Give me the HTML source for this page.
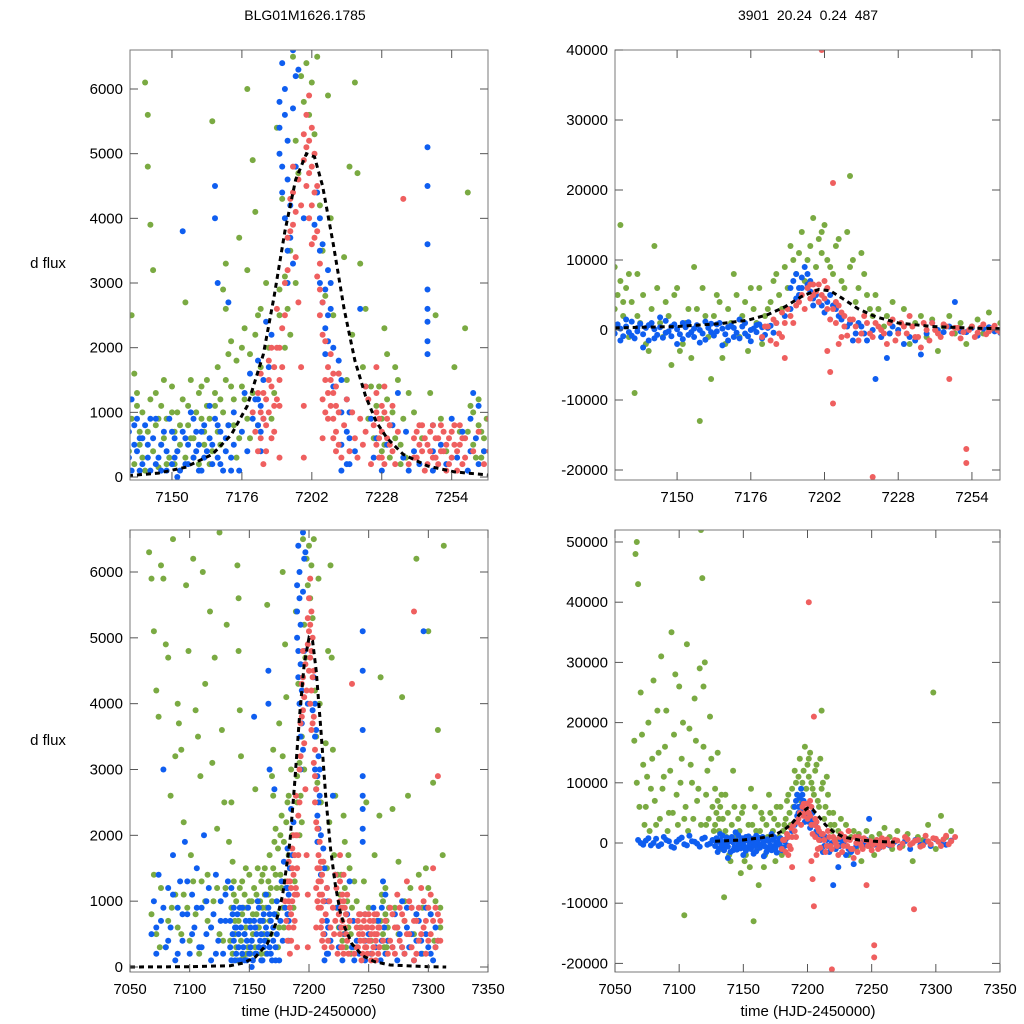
<!DOCTYPE html>
<html><head><meta charset="utf-8"><title>BLG01M1626.1785</title>
<style>
html,body{margin:0;padding:0;background:#fff;}
svg{display:block;font-family:"Liberation Sans",sans-serif;}
</style></head>
<body>
<svg id="chart" width="1024" height="1024" viewBox="0 0 1024 1024" xmlns="http://www.w3.org/2000/svg">
<rect width="1024" height="1024" fill="#fff"/>
<text x="305" y="20" font-size="14" text-anchor="middle">BLG01M1626.1785</text>
<text x="808" y="20" font-size="14" text-anchor="middle" xml:space="preserve">3901  20.24  0.24  487</text>
<text x="48" y="268" font-size="15" text-anchor="middle">d flux</text>
<text x="48" y="745" font-size="15" text-anchor="middle">d flux</text>
<text x="309" y="1016" font-size="15" text-anchor="middle">time (HJD-2450000)</text>
<text x="808" y="1016" font-size="15" text-anchor="middle">time (HJD-2450000)</text>
</svg>
<script>
// ---- Left dataset (d flux) ----
const greenL = [[7066,6300],[7068,5900],[7070,5100],[7072,4200],[7074,3800],[7076,6100],[7078,5900],[7080,4900],[7082,4700],[7084,2600],[7086,6500],[7088,3200],[7090,4000],[7091,3700],[7093,3300],[7095,2200],[7097,5800],[7099,4800],[7101,1700],[7103,6200],[7105,3900],[7107,3500],[7109,2900],[7111,6000],[7113,4300],[7115,1400],[7117,5400],[7119,3100],[7121,4700],[7123,2100],[7125,6600],[7127,3600],[7129,2500],[7131,5200],[7133,1900],
[7068,800],[7072,500],[7076,1200],[7080,300],[7085,900],[7090,600],[7095,1100],[7100,400],[7105,800],[7110,1300],[7115,700],[7120,1000],[7125,500],[7130,1200],
[7135,2500],[7136,1600],[7137,1100],[7138,700],[7139,300],[7140,6100],[7141,5600],[7141,4800],[7142,3900],[7143,3200],[7144,1300],[7145,900],[7146,500],[7147,1500],[7148,200],[7150,1000],[7151,700],[7152,400],[7153,800],[7155,2700],[7156,1100],[7157,600],[7158,300],[7160,1300],[7161,900],[7162,500],[7163,1500],[7164,200],[7165,5500],[7166,1100],[7167,700],[7168,1200],[7169,2900],[7170,3300],[7170,2600],[7171,1900],[7172,1400],[7173,800],[7174,300],[7175,3700],[7176,2000],[7177,1200],[7178,6000],[7178,3200],[7179,600],[7180,4900],[7181,4100],[7182,2500],[7183,1700],[7185,3000],[7186,2000],[7187,900],[7188,1300],[7189,5400],[7190,2900],[7191,4300],[7192,3100],[7193,2600],[7194,2200],[7195,6500],[7196,5200],[7197,4700],[7198,6200],[7199,5800],[7200,6400],[7201,5600],[7202,6100],[7203,5300],[7204,6500],[7205,4200],[7206,3500],[7207,2800],[7208,5900],[7209,4000],[7210,2500],[7212,1600],[7214,3400],[7215,1500],[7216,4800],[7217,2200],[7218,6100],[7219,4700],[7220,3300],[7221,1700],[7222,2600],[7223,900],[7224,1400],[7225,600],[7226,1100],[7228,400],[7229,2300],[7230,1200],[7231,800],[7233,1700],[7235,500],[7237,300],[7240,1000],[7243,600],[7246,1300],[7248,2500],[7250,900],[7252,400],[7255,1700],[7257,700],[7259,2300],[7260,4400],[7261,1100],[7262,500],[7264,800],[7265,300],[7266,600],
[7270,2400],[7272,900],[7275,1600],[7278,4100],[7280,700],[7283,2600],[7285,1200],[7288,500],[7290,6200],[7292,1400],[7295,900],[7298,1500],[7300,5100],[7302,800],[7304,2800],[7306,1000],[7308,3600],[7310,600],[7312,1700],[7313,6400]];
const greenLExtra = [[7134,400],[7135,900],[7136,200],[7137,1300],[7138,500],[7139,1000],[7140,100],[7141,700],[7142,1200],[7143,400],[7144,800],[7145,150],[7146,1100],[7147,600],[7148,900],[7149,300],[7150,1400],[7151,200],[7152,1000],[7153,500],[7154,1200],[7155,300],[7156,800],[7157,1500],[7158,600],[7159,1000],[7160,200],[7161,1400],[7162,700],[7163,1100],[7164,900],[7165,400],[7166,1300],[7167,1700],[7168,500],[7169,1000],[7170,1500],[7171,800],[7172,2100],[7173,1200],[7174,1800],[7175,600],[7176,1400],[7177,2300],[7178,900],[7179,1900],[7180,1300],[7181,2200],[7182,800],[7183,2600],[7196,3000],[7194,3500],[7192,2000],[7190,2500],[7226,600],[7227,1400],[7228,900],[7229,500],[7230,1900],[7231,300],[7232,1000],[7233,600],[7234,1500],[7235,200],[7236,900],[7238,1300],[7260,700],[7262,1000],[7263,300],[7264,1200],[7265,700],[7266,400],[7267,900],[7070,1400],[7075,300],[7082,700],[7088,1100],[7093,500],[7098,900],[7103,1300],[7108,200],[7113,1000],[7118,600],[7123,1200],[7128,400],[7275,500],[7280,1000],[7285,300],[7290,800],[7295,200],[7300,1200],[7305,400],[7310,900]];
const blueL = [[7068,500],[7070,1000],[7072,200],[7074,1400],[7076,700],[7078,3000],[7080,300],[7082,1200],[7084,600],[7086,1700],[7088,100],[7090,900],[7092,1300],[7094,400],[7096,1900],[7098,800],[7100,200],[7102,1100],[7104,600],[7106,1500],[7108,300],[7110,900],[7112,2000],[7114,500],[7116,1200],[7118,100],[7120,800],[7122,1400],[7124,400],[7126,1000],[7128,200],[7130,700],[7132,1300],
[7135,1200],[7136,800],[7137,400],[7138,100],[7139,600],[7141,300],[7142,900],[7144,200],[7146,500],[7148,100],[7150,700],[7151,300],[7152,0],[7154,3800],[7155,600],[7156,200],[7158,900],[7159,400],[7160,100],[7161,700],[7162,300],[7164,1100],[7165,500],[7166,4500],[7166,4000],[7167,3000],[7167,800],[7168,200],[7170,600],[7171,2700],[7172,300],[7173,1000],[7175,100],[7176,700],[7177,1300],[7178,400],[7179,1600],[7180,900],[7181,1200],[7182,1800],[7183,400],[7185,2400],[7186,1700],[7187,2200],[7190,5000],[7191,6400],[7192,6000],[7192,5600],[7193,5200],[7193,4600],[7194,4200],[7194,3700],[7195,3300],[7195,6600],[7196,4800],[7197,6300],[7199,4000],[7203,3900],[7204,4400],[7205,3500],[7205,3000],[7206,2700],[7207,2300],[7207,1900],[7208,3200],[7209,2600],[7210,1400],[7212,1800],[7215,1200],[7215,700],[7215,200],[7216,1000],[7218,400],[7220,2600],[7222,1400],[7224,900],[7225,300],[7226,600],[7228,100],[7230,500],[7232,800],[7234,1300],[7236,300],[7237,700],[7238,100],[7240,400],[7242,200],[7245,2900],[7245,2600],[7245,2400],[7245,2100],[7245,1900],[7245,3600],[7245,5100],[7245,4500],[7250,500],[7252,200],[7254,900],[7256,300],[7258,700],[7260,100],[7262,1300],[7263,600],[7266,400],
[7270,300],[7272,800],[7274,100],[7276,500],[7278,1000],[7280,200],[7282,600],[7284,300],[7286,900],[7288,100],[7290,400],[7292,700],[7294,200],[7296,5100],[7298,500],[7300,300],[7302,800],[7304,100],[7306,600],[7308,400]];
const blueLExtra = [[7134,300],[7134,700],[7135,100],[7136,500],[7137,900],[7138,600],[7139,200],[7140,800],[7141,500],[7142,100],[7143,600],[7144,900],[7145,300],[7146,100],[7147,700],[7148,400],[7149,900],[7150,200],[7151,600],[7152,400],[7153,100],[7154,700],[7155,200],[7156,500],[7157,1000],[7158,300],[7159,700],[7160,500],[7161,100],[7162,800],[7163,400],[7164,600],[7165,200],[7166,900],[7167,300],[7168,700],[7169,100],[7170,400],[7171,800],[7172,100],[7173,500],[7182,1200],[7182,800],[7183,1100],[7183,700],[7184,1500],[7184,900],[7190,5800],[7190,5400],[7191,4800],[7191,4400],[7192,4000],[7193,3500],[7193,3000],[7195,5700],[7196,6200],[7205,4000],[7206,3600],[7207,2900],[7208,2500],[7208,2100],[7209,3000],[7210,2000],[7213,1500],[7213,1000],[7213,500],[7213,100],[7216,600],[7216,200],[7247,800],[7247,400],[7247,100],[7261,900],[7261,400],[7264,200],[7264,1100],[7072,600],[7078,900],[7082,400],[7086,1100],[7090,200],[7094,800],[7098,1300],[7102,500],[7106,900],[7110,300],[7114,1000],[7118,600],[7122,200],[7126,700],[7130,1100],[7274,600],[7278,300],[7282,900],[7286,500],[7290,800],[7294,400],[7298,900],[7302,200],[7306,300]];
const redL = [[7180,1000],[7181,700],[7182,1300],[7182,400],[7183,1600],[7184,900],[7184,200],[7185,1200],[7186,1800],[7187,2000],[7187,1400],[7188,1100],[7188,700],[7189,2600],[7190,1500],[7190,300],[7191,2300],[7192,3000],[7193,3700],[7194,4300],[7195,4800],[7195,3900],[7196,4100],[7196,3400],[7197,4600],[7197,2700],[7198,1700],[7199,1100],[7199,300],[7200,5600],[7200,5100],[7201,5900],[7201,4700],[7202,5400],[7202,4200],[7203,5000],[7203,3700],[7204,4500],[7204,3100],[7205,2500],[7206,1200],[7206,600],[7207,2100],[7208,1700],[7209,1900],[7209,1500],[7210,1300],[7210,900],[7211,1100],[7211,700],[7212,500],[7212,1600],[7213,300],[7214,800],[7215,1200],[7216,400],[7217,1000],[7218,600],[7219,300],[7220,900],[7221,500],[7222,1400],[7222,700],[7223,1200],[7224,200],[7225,800],[7226,1700],[7226,1000],[7227,600],[7228,300],[7229,1400],[7230,900],[7231,500],[7232,1100],[7233,200],[7234,700],[7236,4300],[7238,200],[7240,600],[7241,300],[7242,800],[7243,400],[7244,100],[7245,500],[7246,700],[7247,300],[7248,600],[7249,200],[7250,800],[7251,400],[7252,100],[7253,600],[7254,300],[7255,800],[7256,100],[7257,500],[7258,200],[7259,600],
[7262,400],[7264,700],[7266,200],[7268,900],[7270,300],[7272,600],[7274,1100],[7276,400],[7278,800],[7280,200],[7282,1300],[7284,500],[7286,900],[7288,5400],[7288,100],[7290,700],[7292,400],[7294,1200],[7296,600],[7298,200],[7300,900],[7302,500],[7304,1500],[7306,300],[7308,2900],[7308,800],[7310,400]];
const redLExtra = [[7183,1000],[7183,600],[7184,1300],[7185,800],[7185,400],[7186,1500],[7186,1000],[7187,600],[7188,1700],[7189,2000],[7189,1200],[7190,2000],[7190,1100],[7191,1700],[7192,2500],[7193,3200],[7194,3800],[7195,4400],[7198,4200],[7199,4900],[7199,5300],[7200,4500],[7201,5200],[7201,4000],[7202,4800],[7202,3600],[7203,4400],[7204,3800],[7205,3300],[7205,2900],[7206,2700],[7206,2200],[7207,1500],[7207,1000],[7208,1300],[7208,900],[7209,1100],[7210,1600],[7210,600],[7211,1400],[7211,400],[7212,1000],[7226,1300],[7226,500],[7227,900],[7227,300],[7228,1100],[7228,700],[7229,1000],[7229,200],[7230,600],[7231,800],[7232,400],[7240,300],[7241,700],[7242,500],[7243,800],[7244,600],[7245,200],[7246,400],[7247,800],[7248,300],[7249,600],[7250,400],[7251,700],[7252,500],[7253,200],[7254,700],[7255,500],[7256,400],[7257,800],[7258,600],[7259,300],[7268,400],[7270,800],[7272,200],[7274,600],[7276,900],[7278,300],[7280,700],[7282,500],[7284,1000],[7286,300],[7288,700],[7290,200],[7292,900],[7294,500],[7296,1000],[7298,700],[7300,400],[7302,1100],[7304,700],[7306,900],[7308,400],[7310,700]];
const modelL = [[7050,0],[7100,5],[7134,20],[7145,60],[7155,150],[7165,350],[7172,650],[7178,1100],[7184,1900],[7188,2800],[7192,3800],[7196,4600],[7200,5000],[7203,4950],[7206,4500],[7210,3600],[7214,2600],[7218,1800],[7222,1250],[7226,850],[7230,600],[7236,350],[7245,170],[7255,80],[7268,30],[7300,5],[7315,0]];

// ---- Right dataset (flux) ----
const greenR = [[7065,17000],[7066,48000],[7067,50000],[7068,43000],[7070,25000],[7072,13000],[7074,6000],[7076,20000],[7078,9000],[7080,27000],[7082,3000],[7084,15000],[7086,31000],[7088,11000],[7090,22000],[7092,5000],[7094,35000],[7096,18000],[7098,8000],[7100,26000],[7102,14000],[7104,-12000],[7104,4000],[7106,33000],[7108,19000],[7110,10000],[7112,24000],[7114,7000],[7116,29000],[7117,52000],[7118,44000],[7119,16000],[7120,30000],[7121,3000],[7122,12000],[7124,21000],[7126,6000],[7128,9000],[7130,15000],[7131,4000],[7133,8000],[7135,-9000],[7136,2000],[7138,5000],[7140,-3000],[7142,12000],[7144,1000],[7146,4000],[7148,-5000],[7150,6000],[7152,-2000],[7154,3000],[7156,9000],[7158,-13000],[7160,2000],[7162,-7000],[7164,5000],[7166,-4000],[7168,3000],[7170,8000],[7172,-1000],[7174,4000],[7176,6000],[7178,1000],[7180,-2000],[7182,3000],[7184,7000],[7186,5000],[7188,9000],[7190,12000],[7192,8000],[7194,14000],[7196,10000],[7198,16000],[7200,13000],[7201,11000],[7202,15000],[7204,9000],[7206,12000],[7208,7000],[7210,14000],[7211,22000],[7212,10000],[7214,6000],[7216,8000],[7218,3000],[7220,5000],[7222,-1000],[7224,2000],[7226,4000],[7228,0],[7230,3000],[7232,-2000],[7234,1000],[7236,2000],[7238,-1000],[7240,1500],[7242,-3000],[7244,500],[7246,2000],[7248,-500],[7250,1000],[7252,-2000],[7254,500],[7256,1500],[7258,-500],[7260,2500],[7262,0],[7264,1000],[7266,-1000],[7270,2000],[7274,-500],[7278,1500],[7282,-3000],[7286,1000],[7290,500],[7294,3000],[7298,25000],[7300,-1000],[7304,4500],[7308,1000],[7312,2000]];
const greenRExtra = [[7128,3000],[7129,5000],[7130,7000],[7131,2000],[7132,6000],[7133,-1000],[7134,4000],[7136,8000],[7137,1000],[7139,-2000],[7141,3000],[7143,6000],[7145,-1000],[7147,2000],[7149,5000],[7151,-3000],[7153,1000],[7155,-4000],[7157,3000],[7159,6000],[7161,-1000],[7163,2000],[7165,4000],[7167,-2000],[7169,1000],[7171,5000],[7173,2000],[7175,-3000],[7177,3000],[7179,6000],[7181,2000],[7183,4000],[7185,8000],[7187,3000],[7189,6000],[7191,10000],[7193,11000],[7195,7000],[7197,12000],[7199,9000],[7201,14000],[7203,10000],[7205,8000],[7207,13000],[7209,6000],[7211,9000],[7213,4000],[7215,11000],[7217,5000],[7219,2000],[7221,3000],[7223,500],[7225,-500],[7067,10000],[7069,6000],[7071,18000],[7073,3000],[7075,11000],[7077,2000],[7079,14000],[7081,7000],[7083,22000],[7085,4000],[7087,9000],[7089,16000],[7091,2000],[7093,12000],[7095,5000],[7097,28000],[7099,3000],[7101,10000],[7103,20000],[7105,6000],[7107,2000],[7109,13000],[7111,4000],[7113,17000],[7115,9000],[7117,3000],[7119,26000],[7121,8000],[7123,4000],[7125,14000],[7127,2000]];
const blueR = [[7068,500],[7072,-300],[7076,800],[7080,0],[7084,-500],[7088,1000],[7092,300],[7096,-800],[7100,600],[7104,-200],[7108,1200],[7112,200],[7116,-600],[7120,900],[7124,-100],[7128,400],[7130,-1500],[7132,1500],[7134,-800],[7136,300],[7138,-2500],[7140,700],[7142,-1200],[7144,1800],[7146,-400],[7148,500],[7150,-2000],[7152,1000],[7154,-700],[7156,200],[7158,-1800],[7160,1200],[7162,-300],[7164,800],[7166,-2200],[7168,400],[7170,-1000],[7172,1500],[7174,-500],[7176,0],[7178,700],[7180,-1200],[7182,300],[7185,1000],[7188,2000],[7190,3000],[7192,4500],[7193,6000],[7194,7500],[7195,9000],[7196,8000],[7197,5500],[7198,3500],[7200,4000],[7202,2500],[7204,5000],[7206,3000],[7208,1500],[7210,500],[7212,-1500],[7214,1000],[7216,-500],[7220,-7000],[7222,-1000],[7224,-4000],[7226,500],[7230,-2000],[7232,-1000],[7236,-3500],[7238,-500],[7240,1000],[7244,-300],[7246,500],[7248,4000],[7250,-200],[7254,300],[7256,-800],[7260,400],[7264,-400],[7268,200],[7272,-600],[7276,300],[7280,-1000],[7284,500],[7288,-300],[7292,200],[7296,-500],[7300,600],[7304,0],[7308,-300],[7312,400]];
const blueRExtra = [[7128,-500],[7129,800],[7130,200],[7131,-900],[7132,500],[7133,-300],[7134,1200],[7135,-1200],[7136,-200],[7137,900],[7138,-600],[7139,300],[7140,-1500],[7141,1000],[7142,100],[7143,-700],[7144,400],[7145,-1100],[7146,1300],[7147,-200],[7148,-900],[7149,800],[7150,100],[7151,-600],[7152,-1300],[7153,400],[7154,1100],[7155,-300],[7156,-1000],[7157,700],[7158,0],[7159,-500],[7160,-1400],[7161,300],[7162,900],[7163,-800],[7164,-200],[7165,1000],[7166,200],[7167,-600],[7168,-1500],[7169,600],[7170,300],[7171,-400],[7172,-1200],[7173,500],[7174,1000],[7175,-900],[7176,-1600],[7177,200],[7178,-300],[7179,800],[7180,400],[7181,-700],[7183,600],[7184,-400],[7190,6000],[7191,7000],[7192,8000],[7193,5000],[7194,6000],[7196,6500],[7197,7000],[7198,4500],[7199,5000],[7201,3500],[7203,4000],[7205,3500],[7207,2000],[7211,1000],[7213,-500],[7215,500],[7217,-1500],[7219,0],[7225,-500],[7228,0],[7234,-1500],[7242,0],[7252,-300],[7258,200],[7262,-200],[7070,0],[7074,400],[7078,-400],[7082,700],[7086,-200],[7090,500],[7094,-600],[7098,200],[7102,900],[7106,-400],[7110,300],[7114,-100],[7118,700],[7122,-300],[7126,500]];
const redR = [[7180,-1000],[7182,500],[7184,1500],[7185,-2000],[7186,-500],[7187,2500],[7188,1000],[7188,-4000],[7190,2000],[7192,3500],[7194,5000],[7196,6000],[7197,4500],[7198,6500],[7199,5500],[7200,4000],[7201,40000],[7202,7000],[7203,3000],[7203,-3000],[7204,1500],[7204,-6000],[7205,21000],[7205,-10500],[7206,4000],[7207,-2000],[7208,2500],[7209,500],[7210,-800],[7212,1500],[7214,-1500],[7216,2000],[7218,-500],[7219,-21000],[7220,1000],[7222,0],[7224,-2000],[7226,1500],[7228,-500],[7230,500],[7232,2000],[7234,-1000],[7236,-2500],[7238,0],[7240,1000],[7242,-500],[7244,800],[7246,-7000],[7248,300],[7250,-1200],[7252,-17000],[7252,-19000],[7254,500],[7256,-400],[7258,800],[7260,-200],[7262,600],[7264,-300],[7268,500],[7272,-800],[7276,1000],[7280,-300],[7283,-11000],[7284,400],[7288,-600],[7292,1200],[7296,-200],[7300,700],[7304,-500],[7308,1200],[7312,300],[7315,1000]];
const redRExtra = [[7181,500],[7183,-1500],[7185,1000],[7187,-1000],[7189,3000],[7191,1000],[7193,4000],[7195,3000],[7197,6500],[7198,5000],[7200,6500],[7201,5000],[7202,4500],[7203,6000],[7205,3000],[7206,1000],[7207,3500],[7208,-1000],[7209,2000],[7211,1500],[7213,500],[7215,-500],[7217,1000],[7219,-1000],[7221,500],[7223,-500],[7225,1000],[7227,-1500],[7229,1000],[7231,-500],[7233,500],[7235,-1000],[7237,1000],[7239,-1500],[7241,0],[7243,-1000],[7245,500],[7247,-500],[7249,300],[7251,-300],[7253,0],[7255,-1000],[7257,300],[7259,-600],[7261,200],[7263,0],[7266,-300],[7270,400],[7274,-100],[7278,600],[7282,0],[7286,500],[7290,-400],[7294,300],[7298,800],[7302,200],[7306,600],[7310,-200]];
const modelR = [[7128,300],[7150,500],[7165,900],[7175,1400],[7182,2200],[7188,3300],[7194,4800],[7200,5800],[7204,5600],[7208,4600],[7214,3000],[7220,1900],[7228,1000],[7240,500],[7255,250],[7268,150]];

const xTicksTop = [7150,7176,7202,7228,7254];
const xTicksBottom = [7050,7100,7150,7200,7250,7300,7350];
const yTicksLeft = [0,1000,2000,3000,4000,5000,6000];
const yTicksTopRight = [-20000,-10000,0,10000,20000,30000,40000];
const yTicksBottomRight = [-20000,-10000,0,10000,20000,30000,40000,50000];

const NS = "http://www.w3.org/2000/svg";
const svg = document.getElementById('chart');
function mk(tag, attrs, parent){ const e=document.createElementNS(NS,tag); for(const k in attrs) e.setAttribute(k,attrs[k]); (parent||svg).appendChild(e); return e; }

const leftSeries = [greenL.concat(greenLExtra), blueL.concat(blueLExtra), redL.concat(redLExtra)];
const rightSeries = [greenR.concat(greenRExtra), blueR.concat(blueRExtra), redR.concat(redRExtra)];

const panels = [
 {id:'top-left', x0:130,x1:488,y0:50,y1:480, xd:[7134.4,7267.5], yd:[-46,6603], xt:xTicksTop, yt:yTicksLeft, d:leftSeries, m:modelL},
 {id:'top-right', x0:615,x1:1000,y0:50,y1:480, xd:[7128.1,7263.9], yd:[-21429,40000], xt:xTicksTop, yt:yTicksTopRight, d:rightSeries, m:modelR},
 {id:'bottom-left', x0:130,x1:488,y0:530,y1:972, xd:[7050,7350], yd:[-76,6638], xt:xTicksBottom, yt:yTicksLeft, d:leftSeries, m:modelL},
 {id:'bottom-right', x0:615,x1:1000,y0:530,y1:972, xd:[7050,7350], yd:[-21429,51993], xt:xTicksBottom, yt:yTicksBottomRight, d:rightSeries, m:modelR}
];
const colors = ['#7aaa42','#0f5ef0','#ef5f5f'];
const seriesNames = ['green-series','blue-series','red-series'];

panels.forEach((p,pi)=>{
  const sx = v => p.x0 + (v-p.xd[0])/(p.xd[1]-p.xd[0])*(p.x1-p.x0);
  const sy = v => p.y1 - (v-p.yd[0])/(p.yd[1]-p.yd[0])*(p.y1-p.y0);
  const g = mk('g',{});
  
  
  const cp = mk('clipPath',{id:'clip'+pi}, g);
  mk('rect',{x:p.x0,y:p.y0,width:p.x1-p.x0,height:p.y1-p.y0}, cp);
  const plot = mk('g',{'clip-path':'url(#clip'+pi+')'}, g);
  p.d.forEach((ser,si)=>{
    const sg = mk('g',{fill:colors[si]}, plot);
    
    
    ser.forEach(pt=>{
      const c = mk('circle',{cx:sx(pt[0]).toFixed(1), cy:sy(pt[1]).toFixed(1), r:3}, sg);
      
      
    });
  });
  const ml = mk('polyline',{points:p.m.map(q=>sx(q[0]).toFixed(1)+','+sy(q[1]).toFixed(1)).join(' '), fill:'none', stroke:'#000', 'stroke-width':3, 'stroke-dasharray':'5,4'}, plot);
  
  
  const fr = mk('rect',{x:p.x0,y:p.y0,width:p.x1-p.x0,height:p.y1-p.y0, fill:'none', stroke:'#7a7a7a','stroke-width':1}, g);
  
  
  const ax = mk('g',{stroke:'#555','stroke-width':1}, g);
  
  
  p.xt.forEach(t=>{
    const x = sx(t);
    mk('line',{x1:x,x2:x,y1:p.y1,y2:p.y1-8},ax);
    mk('line',{x1:x,x2:x,y1:p.y0,y2:p.y0+8},ax);
    const tl = mk('text',{x:x,y:p.y1+22,'font-size':15,'text-anchor':'middle',fill:'#000',stroke:'none'},g);
    tl.textContent = t;
    
    
  });
  p.yt.forEach(t=>{
    const y = sy(t);
    mk('line',{x1:p.x0,x2:p.x0+8,y1:y,y2:y},ax);
    mk('line',{x1:p.x1,x2:p.x1-8,y1:y,y2:y},ax);
    const tl = mk('text',{x:p.x0-7,y:y+5,'font-size':15,'text-anchor':'end',fill:'#000'},g);
    tl.textContent = t;
    
    
  });
});
</script>
</body></html>
